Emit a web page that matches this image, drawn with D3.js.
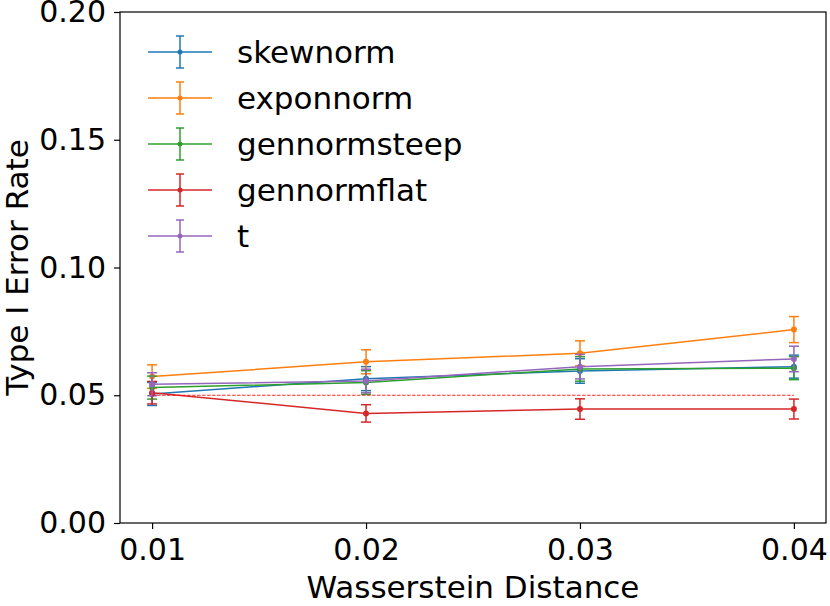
<!DOCTYPE html>
<html>
<head>
<meta charset="utf-8">
<script src="https://cdn.jsdelivr.net/npm/d3@7"></script>
<style>
  body { margin: 0; background: #fff; }
  text { font-family: "DejaVu Sans", sans-serif; fill: #000; }
</style>
</head>
<body>
<div id="chart"></div>
<script>
const distances = [0.01, 0.02, 0.03, 0.04];
const xTicks = [0.01, 0.02, 0.03, 0.04];
const yTicks = [0.00, 0.05, 0.10, 0.15, 0.20];
const seriesNames = ["skewnorm", "exponnorm", "gennormsteep", "gennormflat", "t"];
const seriesColors = ["#1f77b4", "#ff7f0e", "#2ca02c", "#d62728", "#9467bd"];

const skewnorm = [0.0505, 0.0565, 0.0595, 0.0612];
const skewnormErr = [0.0045, 0.0047, 0.0048, 0.0045];
const exponnorm = [0.0573, 0.0631, 0.0664, 0.0757];
const exponnormErr = [0.0046, 0.0047, 0.0049, 0.0051];
const gennormsteep = [0.0530, 0.0550, 0.0603, 0.0606];
const gennormsteepErr = [0.0045, 0.0046, 0.0048, 0.0045];
const gennormflat = [0.0510, 0.0429, 0.0446, 0.0446];
const gennormflatErr = [0.0044, 0.0034, 0.0040, 0.0039];
const tdist = [0.0543, 0.0556, 0.0612, 0.0642];
const tdistErr = [0.0045, 0.0046, 0.0048, 0.0050];

const nominal = 0.05;

const values = [skewnorm, exponnorm, gennormsteep, gennormflat, tdist];
const errors = [skewnormErr, exponnormErr, gennormsteepErr, gennormflatErr, tdistErr];

const W = 830, H = 606;
const margin = { top: 12, right: 4, bottom: 83, left: 120 };
const width = W - margin.left - margin.right;
const height = H - margin.top - margin.bottom;
const fs = "31px";

const svg = d3.select("#chart")
    .append("svg")
    .attr("width", W)
    .attr("height", H);

const g = svg.append("g")
    .attr("transform", `translate(${margin.left},${margin.top})`);

const x = d3.scaleLinear()
    .domain([0.0085, 0.0415])
    .range([0, width]);

const y = d3.scaleLinear()
    .domain([0, 0.2])
    .range([height, 0]);

// axes
const xAxis = g.append("g")
    .attr("transform", `translate(0,${height})`)
    .call(d3.axisBottom(x).tickValues(xTicks).tickFormat(d3.format(".2f")).tickSize(6).tickPadding(8));
const yAxis = g.append("g")
    .call(d3.axisLeft(y).tickValues(yTicks).tickFormat(d3.format(".2f")).tickSize(6).tickPadding(8));

[xAxis, yAxis].forEach(a => {
    a.select(".domain").remove();
    a.selectAll("line").attr("stroke", "#000").attr("stroke-width", 1.2);
    a.selectAll("text").style("font-size", "30px").style("font-family", "DejaVu Sans, sans-serif");
});
xAxis.selectAll("text").attr("dy", "0.78em");

// series
const line = d3.line()
    .x((d, i) => x(distances[i]))
    .y(d => y(d));

const capW = 5;

values.forEach((vals, s) => {
    const col = seriesColors[s];
    const grp = g.append("g");
    grp.append("path")
        .datum(vals)
        .attr("fill", "none")
        .attr("stroke", col)
        .attr("stroke-width", 1.5)
        .attr("d", line);

    const eb = grp.selectAll("g.err")
        .data(vals)
        .enter()
        .append("g");
    eb.append("line")
        .attr("x1", (d, i) => x(distances[i]))
        .attr("x2", (d, i) => x(distances[i]))
        .attr("y1", (d, i) => y(d - errors[s][i]))
        .attr("y2", (d, i) => y(d + errors[s][i]))
        .attr("stroke", col).attr("stroke-width", 1.5);
    [-1, 1].forEach(sign => {
        eb.append("line")
            .attr("x1", (d, i) => x(distances[i]) - capW)
            .attr("x2", (d, i) => x(distances[i]) + capW)
            .attr("y1", (d, i) => y(d + sign * errors[s][i]))
            .attr("y2", (d, i) => y(d + sign * errors[s][i]))
            .attr("stroke", col).attr("stroke-width", 1.5);
    });
    grp.selectAll("circle")
        .data(vals)
        .enter()
        .append("circle")
        .attr("cx", (d, i) => x(distances[i]))
        .attr("cy", d => y(d))
        .attr("r", 3)
        .attr("fill", col);
});

// nominal level
g.append("line")
    .attr("x1", x(distances[0]))
    .attr("x2", x(distances[distances.length - 1]))
    .attr("y1", y(nominal))
    .attr("y2", y(nominal))
    .attr("stroke", "red")
    .attr("stroke-opacity", 0.85)
    .attr("stroke-width", 1.1)
    .attr("stroke-dasharray", "3.5,1.5");

// frame
g.append("rect")
    .attr("width", width)
    .attr("height", height)
    .attr("fill", "none")
    .attr("stroke", "#000")
    .attr("stroke-width", 1.2);

// legend
const legend = g.append("g")
    .attr("transform", "translate(28,40)");
seriesNames.forEach((name, i) => {
    const row = legend.append("g").attr("transform", `translate(0,${i * 46})`);
    const col = seriesColors[i];
    row.append("line").attr("x1", 0).attr("x2", 64).attr("stroke", col).attr("stroke-width", 1.5);
    row.append("line").attr("x1", 32).attr("x2", 32).attr("y1", -16).attr("y2", 16).attr("stroke", col).attr("stroke-width", 1.5);
    row.append("line").attr("x1", 28).attr("x2", 36).attr("y1", -16).attr("y2", -16).attr("stroke", col).attr("stroke-width", 1.5);
    row.append("line").attr("x1", 28).attr("x2", 36).attr("y1", 16).attr("y2", 16).attr("stroke", col).attr("stroke-width", 1.5);
    row.append("circle").attr("cx", 32).attr("r", 2.5).attr("fill", col);
    row.append("text")
        .attr("x", 89)
        .attr("dy", "0.35em")
        .style("font-size", fs)
        .text(name);
});

// axis labels
svg.append("text")
    .attr("x", margin.left + width / 2)
    .attr("y", 598)
    .attr("text-anchor", "middle")
    .style("font-size", fs)
    .text("Wasserstein Distance");

svg.append("text")
    .attr("transform", `translate(28,${margin.top + height / 2}) rotate(-90)`)
    .attr("text-anchor", "middle")
    .style("font-size", fs)
    .text("Type I Error Rate");
</script>
</body>
</html>
